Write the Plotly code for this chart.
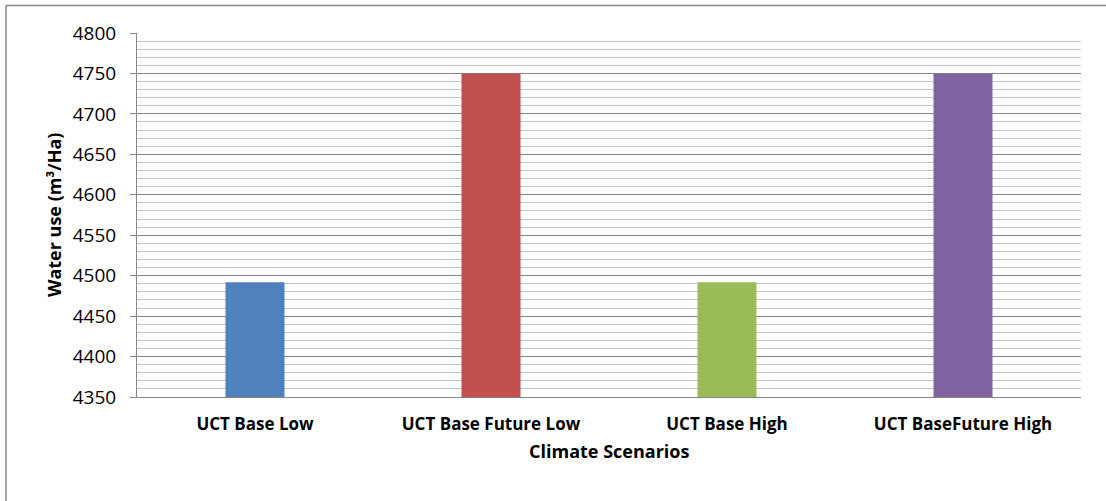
import plotly.graph_objects as go

categories = ["UCT Base Low", "UCT Base Future Low", "UCT Base High", "UCT BaseFuture High"]
values = [4492, 4750, 4492, 4750]
colors = ["#4f81bd", "#c0504d", "#9bbb59", "#8064a2"]
y_ticks = [4350, 4400, 4450, 4500, 4550, 4600, 4650, 4700, 4750, 4800]

FONT = "Open Sans"

W, H = 1106, 501
L, T = 137, 33
R, B = 25, 104
PW = W - L - R
PH = H - T - B

fig = go.Figure()
fig.add_trace(go.Bar(
    x=categories, y=values, marker=dict(color=colors, line=dict(width=0)),
    width=0.25, showlegend=False,
))

def px_x(x):
    return (x - L) / PW

def px_y(y):
    return (T + PH - y) / PH

fig.update_layout(
    width=W, height=H,
    margin=dict(l=L, r=R, t=T, b=B, autoexpand=False),
    paper_bgcolor="white", plot_bgcolor="white",
    font=dict(family=FONT, color="black"),
    xaxis=dict(
        showline=True, linecolor="#868686", linewidth=1,
        ticks="", showgrid=False,
        tickfont=dict(family=FONT, size=17, color="black", weight="bold"),
        ticklabelstandoff=12,
    ),
    yaxis=dict(
        range=[4350, 4800], tickvals=y_ticks, ticktext=[str(v) for v in y_ticks],
        showline=True, linecolor="#868686", linewidth=1,
        ticks="outside", ticklen=6, tickcolor="#868686",
        showgrid=True, gridcolor="#868686", gridwidth=1,
        minor=dict(dtick=10, showgrid=True, gridcolor="#c4c4c4", gridwidth=1, ticks=""),
        tickfont=dict(family=FONT, size=19, color="black"),
        ticklabelstandoff=10,
        zeroline=False,
    ),
    annotations=[
        dict(text="<b>Climate Scenarios</b>", xref="paper", yref="paper",
             x=0.5, y=px_y(451), xanchor="center", yanchor="middle",
             showarrow=False, font=dict(family=FONT, size=18, color="black")),
        dict(text="<b>Water use (m³/Ha)</b>", xref="paper", yref="paper",
             x=px_x(54), y=0.5, xanchor="center", yanchor="middle", textangle=-90,
             showarrow=False, font=dict(family=FONT, size=18, color="black")),
    ],
    shapes=[
        dict(type="line", xref="paper", yref="paper",
             x0=px_x(6), x1=1.2, y0=px_y(5.5), y1=px_y(5.5),
             line=dict(color="#898989", width=1.5)),
        dict(type="line", xref="paper", yref="paper",
             x0=px_x(6), x1=px_x(6), y0=-0.5, y1=px_y(5.5),
             line=dict(color="#898989", width=1.5)),
    ],
)

fig.write_html("out.html", config={"displayModeBar": False},
               post_script="document.body.style.margin='0';")
